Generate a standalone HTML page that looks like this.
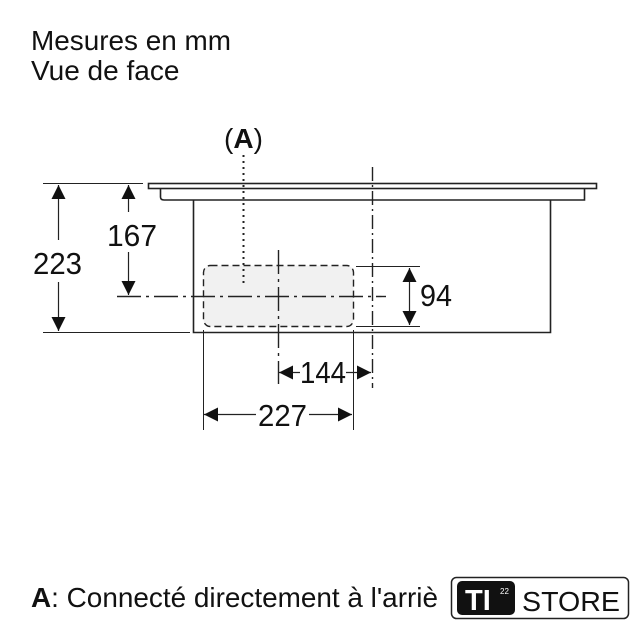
<!DOCTYPE html>
<html><head><meta charset="utf-8"><style>
html,body{margin:0;padding:0;background:#fff;}
svg{display:block;}
text{font-family:"Liberation Sans",sans-serif;fill:#111;}
</style></head><body>
<svg width="640" height="640" viewBox="0 0 640 640" xmlns="http://www.w3.org/2000/svg">
<defs>
<marker id="arv" viewBox="0 0 14 14" refX="14" refY="7" markerWidth="14" markerHeight="14" markerUnits="userSpaceOnUse" orient="auto-start-reverse"><path d="M0,0 L14,7 L0,14 Z" fill="#111"/></marker>
</defs>
<text x="31" y="50" font-size="28" textLength="200" lengthAdjust="spacingAndGlyphs">Mesures en mm</text>
<text x="31" y="80" font-size="28">Vue de face</text>
<text x="224" y="148" font-size="28">(<tspan font-weight="bold">A</tspan>)</text>

<g stroke="#222" fill="none">
<rect x="148.5" y="183.5" width="448" height="5" stroke-width="1.6"/>
<path d="M160.5 188.5 V197 Q160.5 200 164 200 H584.5 V188.5" stroke-width="1.6"/>
<path d="M193.5 200 V332.5 H550.5 V200" stroke-width="1.6"/>
<rect x="203.5" y="265.5" width="150" height="61" rx="7" fill="#f1f1f1" stroke-dasharray="7,4" stroke-width="1.4"/>
<line x1="117" y1="296.5" x2="386" y2="296.5" stroke-dasharray="24,5,3,5" stroke-width="1.4"/>
<line x1="372.5" y1="167" x2="372.5" y2="388" stroke-dasharray="14,4,2,4" stroke-width="1.4"/>
<line x1="278.5" y1="250" x2="278.5" y2="384" stroke-dasharray="24,5,3,5" stroke-width="1.4"/>
<line x1="243.5" y1="155" x2="243.5" y2="285" stroke-dasharray="2,4" stroke-width="2"/>
<g stroke-width="1">
<line x1="43" y1="183.5" x2="143" y2="183.5"/>
<line x1="43" y1="332.5" x2="190" y2="332.5"/>
<line x1="356" y1="266.5" x2="420" y2="266.5"/>
<line x1="356" y1="326.5" x2="420" y2="326.5"/>
<line x1="203.5" y1="330" x2="203.5" y2="430"/>
<line x1="353.5" y1="330" x2="353.5" y2="430"/>
</g>
<g stroke-width="1.2">
<line x1="58.5" y1="185" x2="58.5" y2="240" marker-start="url(#arv)"/>
<line x1="58.5" y1="282" x2="58.5" y2="331" marker-end="url(#arv)"/>
<line x1="128.5" y1="185" x2="128.5" y2="212" marker-start="url(#arv)"/>
<line x1="128.5" y1="252" x2="128.5" y2="295" marker-end="url(#arv)"/>
<line x1="409.5" y1="268" x2="409.5" y2="325" marker-start="url(#arv)" marker-end="url(#arv)"/>
<line x1="279" y1="372.5" x2="300" y2="372.5" marker-start="url(#arv)"/>
<line x1="346" y1="372.5" x2="371" y2="372.5" marker-end="url(#arv)"/>
<line x1="204" y1="414.5" x2="256" y2="414.5" marker-start="url(#arv)"/>
<line x1="309" y1="414.5" x2="352" y2="414.5" marker-end="url(#arv)"/>
</g>
</g>
<text x="33" y="274" font-size="31" textLength="49" lengthAdjust="spacingAndGlyphs">223</text>
<text x="107" y="246" font-size="31" textLength="50" lengthAdjust="spacingAndGlyphs">167</text>
<text x="420" y="306" font-size="31" textLength="32" lengthAdjust="spacingAndGlyphs">94</text>
<text x="300" y="383" font-size="31" textLength="46" lengthAdjust="spacingAndGlyphs">144</text>
<text x="258" y="426" font-size="31" textLength="49" lengthAdjust="spacingAndGlyphs">227</text>

<text x="31" y="607" font-size="28" textLength="407" lengthAdjust="spacingAndGlyphs"><tspan font-weight="bold">A</tspan>: Connecté directement à l'arriè</text>
<rect x="451.5" y="577.5" width="177" height="41" rx="5" fill="#fff" stroke="#222" stroke-width="1.5"/>
<rect x="457" y="581" width="58" height="34" rx="5" fill="#111"/>
<text x="465" y="610" font-size="29" font-weight="bold" style="fill:#fff">TI</text>
<text x="500" y="594" font-size="8" style="fill:#fff">22</text>
<text x="522" y="611" font-size="28" textLength="98" lengthAdjust="spacingAndGlyphs">STORE</text>
</svg>
</body></html>
